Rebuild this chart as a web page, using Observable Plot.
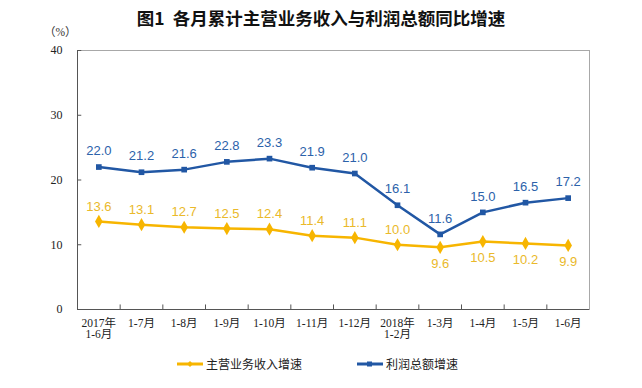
<!DOCTYPE html>
<html><head><meta charset="utf-8">
<script src="https://cdn.jsdelivr.net/npm/d3@7"></script>
<script src="https://cdn.jsdelivr.net/npm/@observablehq/plot@0.6"></script>
<style>
body{margin:0;background:#fff}
#wrap{position:relative;width:642px;height:388px;overflow:hidden;font-family:"Noto Sans CJK SC",sans-serif}
#title{position:absolute;top:5px;left:0;width:642px;text-align:center;font-size:17.5px;font-weight:bold;color:#111}
#unit{position:absolute;top:26px;left:44px;font-size:11.5px;line-height:13px;color:#333;font-family:"Liberation Serif","Noto Sans CJK SC",serif}
#legend{position:absolute;top:355px;left:177px;font-size:12px;color:#222;display:flex;align-items:center}
#legend .item{display:flex;align-items:center}
#legend svg{margin-right:3px}
#chart{position:absolute;top:0;left:0}
</style>
</head><body>
<div id="wrap">
<div id="chart"></div>
<div id="title">图1&nbsp;&nbsp;各月累计主营业务收入与利润总额同比增速</div>
<div id="unit">（%）</div>
<div id="legend"></div>
</div>
<script>
const categories = ["2017年\n1-6月","1-7月","1-8月","1-9月","1-10月","1-11月","1-12月","2018年\n1-2月","1-3月","1-4月","1-5月","1-6月"];
const revenue = [13.6,13.1,12.7,12.5,12.4,11.4,11.1,10.0,9.6,10.5,10.2,9.9];
const profit  = [22.0,21.2,21.6,22.8,23.3,21.9,21.0,16.1,11.6,15.0,16.5,17.2];
const revenueLabelBelow = [false,false,false,false,false,false,false,false,true,true,true,true];
const yTicks = [0,10,20,30,40];
const seriesNames = ["主营业务收入增速","利润总额增速"];
const colors = {line0:"#f7b500", label0:"#eab92a", line1:"#2157a4", label1:"#2c62aa"};

const idx = d3.range(categories.length);
const revRows = idx.map(i => ({i, v: revenue[i], below: revenueLabelBelow[i]}));
const proRows = idx.map(i => ({i, v: profit[i]}));
const boundaries = d3.range(categories.length + 1).map(k => k - 0.5);
const labelFont = "Liberation Sans, Arial, sans-serif";

const plot = Plot.plot({
  width: 642, height: 388,
  marginTop: 50, marginBottom: 79, marginLeft: 77, marginRight: 53,
  x: {type: "linear", domain: [-0.5, categories.length - 0.5], axis: null},
  y: {domain: [0, 40], axis: null},
  style: {fontSize: "11px", background: "#fff"},
  marks: [
    Plot.frame({stroke: "#a8a8a8"}),
    Plot.ruleX(boundaries.slice(1, -1), {y1: 0, y2: 0.7, stroke: "#555"}),
    Plot.ruleY(yTicks, {x1: -0.5, x2: -0.4, stroke: "#555"}),
    Plot.ruleX([-0.5], {stroke: "#555"}),
    Plot.ruleY([0], {stroke: "#555"}),
    Plot.axisX(idx, {label: null, tickSize: 0, tickPadding: 9, tickFormat: i => categories[i], fontFamily: "Liberation Serif, Noto Sans CJK SC, serif", fontSize: 11.5, fill: "#222"}),
    Plot.axisY(yTicks, {label: null, tickSize: 0, tickPadding: 15, fontFamily: "Liberation Serif, serif", fontSize: 12, fill: "#222"}),
    Plot.line(revRows, {x: "i", y: "v", stroke: colors.line0, strokeWidth: 2.5}),
    Plot.dot(revRows, {x: "i", y: "v", symbol: "diamond", r: 4, fill: colors.line0}),
    Plot.line(proRows, {x: "i", y: "v", stroke: colors.line1, strokeWidth: 2.5}),
    Plot.dot(proRows, {x: "i", y: "v", symbol: "square", r: 3.2, fill: colors.line1}),
    Plot.text(revRows, {x: "i", y: "v", text: d => d.v.toFixed(1), fill: colors.label0, fontSize: 13, fontFamily: labelFont,
      filter: d => !d.below, dy: -15, stroke: "#fff", strokeWidth: 3}),
    Plot.text(revRows, {x: "i", y: "v", text: d => d.v.toFixed(1), fill: colors.label0, fontSize: 13, fontFamily: labelFont,
      filter: d => d.below, dy: 16, stroke: "#fff", strokeWidth: 3}),
    Plot.text(proRows, {x: "i", y: "v", text: d => d.v.toFixed(1), fill: colors.label1, fontSize: 13, fontFamily: labelFont, dy: -16, stroke: "#fff", strokeWidth: 3})
  ]
});
document.getElementById("chart").appendChild(plot);

const legend = document.getElementById("legend");
seriesNames.forEach((name, k) => {
  const c = k === 0 ? colors.line0 : colors.line1;
  const marker = k === 0
    ? `<path d="M13,2 L16,5 L13,8 L10,5 Z" fill="${c}"/>`
    : `<rect x="10" y="2.5" width="5" height="5" fill="${c}"/>`;
  const item = document.createElement("div");
  item.className = "item";
  item.style.marginRight = k === 0 ? "55px" : "0";
  item.innerHTML = `<svg width="26" height="10"><line x1="0" x2="26" y1="5" y2="5" stroke="${c}" stroke-width="3"/>${marker}</svg><span>${name}</span>`;
  legend.appendChild(item);
});
</script>
</body></html>
